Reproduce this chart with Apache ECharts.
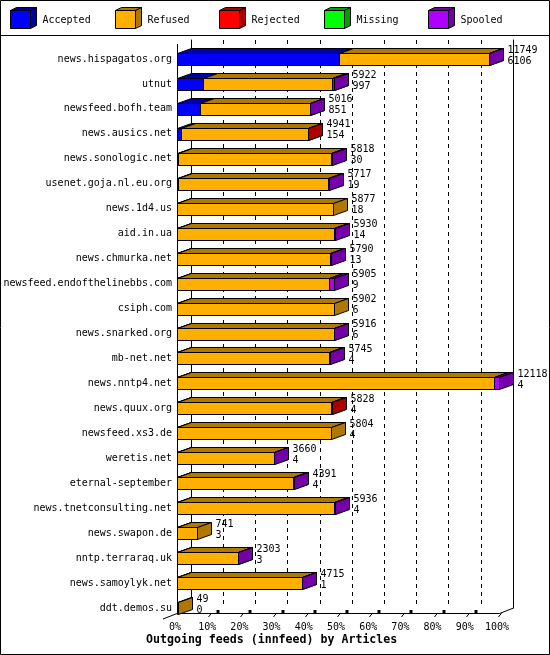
<!DOCTYPE html>
<html>
<head>
<meta charset="utf-8">
<script src="https://cdn.jsdelivr.net/npm/echarts/dist/echarts.min.js"></script>
<style>
html,body{margin:0;padding:0;background:#fff;}
#chart{width:550px;height:655px;}
</style>
</head>
<body>
<div id="chart"></div>
<script>
// ---- data ----
const hosts = ['news.hispagatos.org','utnut','newsfeed.bofh.team','news.ausics.net','news.sonologic.net',
  'usenet.goja.nl.eu.org','news.1d4.us','aid.in.ua','news.chmurka.net','newsfeed.endofthelinebbs.com',
  'csiph.com','news.snarked.org','mb-net.net','news.nntp4.net','news.quux.org','newsfeed.xs3.de',
  'weretis.net','eternal-september','news.tnetconsulting.net','news.swapon.de','nntp.terraraq.uk',
  'news.samoylyk.net','ddt.demos.su'];
const offered  = [11749,5922,5016,4941,5818,5717,5877,5930,5790,5905,5902,5916,5745,12118,5828,5804,3660,4391,5936,741,2303,4715,49];
const accepted = [6106,997,851,154,30,19,18,14,13,9,6,6,4,4,4,4,4,4,4,3,3,1,0];
const refused  = [5618,4840,4153,4777,5768,5678,5859,5896,5757,5706,5896,5890,5721,11924,5804,5800,3636,4367,5912,738,2290,4694,49];
const rejected = [0,70,0,10,0,0,0,0,0,0,0,0,0,0,20,0,0,0,0,0,0,0,0];
const missing  = [0,0,0,0,0,0,0,0,0,0,0,0,0,0,0,0,0,0,0,0,0,0,0];
const spooled  = [25,15,12,0,20,20,0,20,20,190,0,20,20,190,0,0,20,20,20,0,10,20,0];
const legendNames = ['Accepted','Refused','Rejected','Missing','Spooled'];
const tickValues = [0,10,20,30,40,50,60,70,80,90,100];
const maxOffered = Math.max.apply(null, offered);

// ---- style ----
const light = ['#0000ff','#ffaf00','#ff0000','#00ff00','#af00ff'];
const dark  = ['#0000aa','#af7800','#aa0000','#00a000','#7500aa'];
const DX = 14, DY = -5, HALF = 6;
const FONT = '"DejaVu Sans Mono", monospace';
const GL = 177, GW = 322, GT = 46.5, GH = 574;

const chart = echarts.init(document.getElementById('chart'), null, {renderer:'canvas'});
const p = v => Math.round(v) + 0.5;

function renderItem(params, api) {
  const i = api.value(1);
  const segs = [accepted[i], refused[i], rejected[i], missing[i], spooled[i]];
  const yc = api.coord([0, i])[1];
  const y1 = p(yc - HALF), y2 = p(yc + HALF);
  const children = [];
  let cum = 0;
  let xEnd = p(api.coord([0, i])[0]);
  for (let s = 0; s < segs.length; s++) {
    if (!segs[s]) continue;
    const xa = p(api.coord([cum / maxOffered * 100, i])[0]);
    cum += segs[s];
    const xb = p(api.coord([cum / maxOffered * 100, i])[0]);
    const st = {stroke:'#000', lineWidth:1};
    children.push({type:'polygon', shape:{points:[[xa,y1],[xb,y1],[xb,y2],[xa,y2]]}, style:Object.assign({fill:light[s]}, st)});
    children.push({type:'polygon', shape:{points:[[xa,y1],[xb,y1],[xb+DX,y1+DY],[xa+DX,y1+DY]]}, style:Object.assign({fill:dark[s]}, st)});
    children.push({type:'polygon', shape:{points:[[xb,y1],[xb+DX,y1+DY],[xb+DX,y2+DY],[xb,y2]]}, style:Object.assign({fill:dark[s]}, st)});
    xEnd = xb;
  }
  children.push({type:'text', z2: 10, style:{x: xEnd + DX + 4, y: yc - 3.5, text: offered[i] + '\n' + accepted[i],
    font: '10px ' + FONT, fill:'#000', align:'left', verticalAlign:'middle', lineHeight: 11}});
  return {type:'group', children};
}

// legend graphics
const graphics = [];
legendNames.forEach((n, k) => {
  const x0 = Math.round(10 + 104.5 * k) + 0.5, y0 = 10.5, w = 20, h = 18, dx = 6, dy = -3;
  graphics.push({type:'polygon', shape:{points:[[x0,y0],[x0+w,y0],[x0+w+dx,y0+dy],[x0+dx,y0+dy]]}, style:{fill:dark[k], stroke:'#000'}});
  graphics.push({type:'polygon', shape:{points:[[x0+w,y0],[x0+w+dx,y0+dy],[x0+w+dx,y0+h+dy],[x0+w,y0+h]]}, style:{fill:dark[k], stroke:'#000'}});
  graphics.push({type:'rect', shape:{x:x0, y:y0, width:w, height:h}, style:{fill:light[k], stroke:'#000'}});
  graphics.push({type:'text', x: x0 + 32, y: 20, style:{text:n, font:'10px ' + FONT, fill:'#000', verticalAlign:'middle'}});
});
// frame & separator
graphics.push({type:'rect', shape:{x:0.5, y:0.5, width:549, height:654}, style:{fill:null, stroke:'#000'}});
graphics.push({type:'line', shape:{x1:0, y1:35.5, x2:550, y2:35.5}, style:{stroke:'#000'}});
// left front wall and floor
graphics.push({type:'line', z:-1, shape:{x1:177.5, y1:44, x2:177.5, y2:613.5}, style:{stroke:'#000'}});
graphics.push({type:'line', z:-1, shape:{x1:177.5, y1:613.5, x2:499.5, y2:613.5}, style:{stroke:'#000'}});
graphics.push({type:'line', z:-1, shape:{x1:163, y1:619, x2:191, y2:608}, style:{stroke:'#000'}});
graphics.push({type:'line', z:-1, shape:{x1:499.5, y1:613.5, x2:513.5, y2:608}, style:{stroke:'#000'}});
// small 3D tick marks
tickValues.forEach(v => {
  if (v === 0) return;
  const x = Math.round(GL + v / 100 * GW) + 0.5;
  graphics.push({type:'line', z:-1, shape:{x1:x-1, y1:617, x2:x+2, y2:613}, style:{stroke:'#000'}});
  if (v < 100) graphics.push({type:'rect', z:-1, shape:{x:x+7, y:610, width:3, height:3}, style:{fill:'#000'}});
});

const option = {
  animation: false,
  backgroundColor: '#fff',
  title: {text:'Outgoing feeds (innfeed) by Articles', left:146, top:634, padding:0,
    textStyle:{fontFamily:FONT, fontSize:11.6, fontWeight:'bold', color:'#000'}},
  grid: [
    {left:GL, top:GT, width:GW, height:GH},
    {left:GL + DX, top:40, width:GW, height:568}
  ],
  xAxis: [
    {type:'value', gridIndex:0, min:0, max:100, interval:10, axisLine:{show:false}, axisTick:{show:false}, splitLine:{show:false},
     axisLabel:{formatter:'{value}%', fontFamily:FONT, fontSize:10, color:'#000', margin:2, padding:[0,4,0,0]}},
    {type:'value', gridIndex:1, min:0, max:100, interval:10, axisLine:{show:false}, axisTick:{show:false}, axisLabel:{show:false},
     splitLine:{show:true, lineStyle:{color:'#000', type:[4,4], width:1}}}
  ],
  yAxis: [
    {type:'category', gridIndex:0, data:hosts, inverse:true, axisLine:{show:false}, axisTick:{show:false},
     axisLabel:{fontFamily:FONT, fontSize:10, color:'#000', margin:5}},
    {type:'value', gridIndex:1, position:'left', axisLine:{show:true, lineStyle:{color:'#000'}}, axisTick:{show:false}, axisLabel:{show:false}, splitLine:{show:false}},
    {type:'value', gridIndex:1, position:'right', axisLine:{show:true, lineStyle:{color:'#000'}}, axisTick:{show:false}, axisLabel:{show:false}, splitLine:{show:false}}
  ],
  graphic: {elements: graphics},
  series: [{
    type:'custom', xAxisIndex:0, yAxisIndex:0, renderItem,
    encode:{x:0, y:1},
    data: hosts.map((h, i) => [offered[i] / maxOffered * 100, i]),
    clip:false
  }]
};
chart.setOption(option);
</script>
</body>
</html>
